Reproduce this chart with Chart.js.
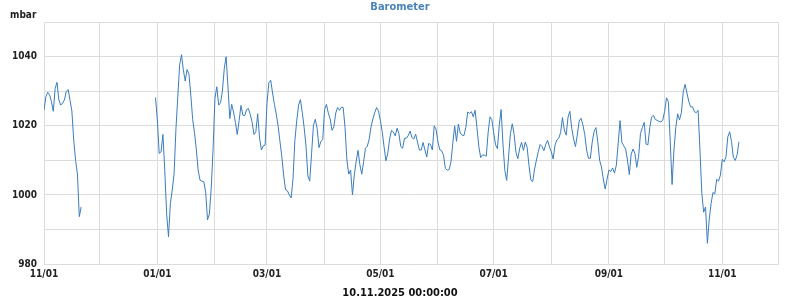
<!DOCTYPE html>
<html>
<head>
<meta charset="utf-8">
<title>Barometer</title>
<script src="https://cdn.jsdelivr.net/npm/chart.js@4.4.1/dist/chart.umd.min.js"></script>
<style>
  html, body { margin: 0; padding: 0; background: #fff; }
  #wrap { width: 800px; height: 300px; }
</style>
</head>
<body>
<div id="wrap"><canvas id="baroChart" width="800" height="300"></canvas></div>
<script>
// daily air pressure (mbar), one array per month, first value = first day listed in seriesStarts
const nov24 = [1024.5, 1028.4, 1029.7, 1029.0, 1027.0, 1024.2, 1030.8, 1032.6, 1027.5, 1026.0,
               1026.6, 1027.5, 1030.0, 1030.5, 1027.4, 1024.3, 1015.9, 1010.0, 1006.0, 993.7, 996.5];
const dec24 = [1028.2];
const jan25 = [1021.7, 1012.0, 1012.5, 1017.5, 1007.0, 994.5, 987.9, 997.5, 1001.4, 1006.0,
               1019.0, 1028.4, 1037.7, 1040.6, 1036.1, 1033.0, 1036.3, 1035.0, 1028.9, 1021.9,
               1018.0, 1013.0, 1007.0, 1004.2, 1004.0, 1003.8, 1000.8, 992.8, 994.5, 1002.0, 1013.5];
const feb25 = [1028.0, 1031.3, 1026.0, 1026.7, 1030.0, 1036.5, 1040.0, 1031.3, 1022.1, 1026.2,
               1024.0, 1021.0, 1017.5, 1021.5, 1025.9, 1023.1, 1022.9, 1024.7, 1025.0, 1023.3,
               1021.0, 1017.5, 1018.3, 1023.5, 1016.5, 1013.0, 1014.2, 1014.4];
const mar25 = [1026.5, 1032.5, 1033.2, 1029.5, 1026.2, 1023.4, 1019.9, 1015.4, 1011.0, 1005.5,
               1001.5, 1001.2, 1000.0, 999.1, 1004.7, 1015.7, 1021.4, 1026.0, 1027.6, 1023.8,
               1019.5, 1014.2, 1005.5, 1004.0, 1012.0, 1020.2, 1021.9, 1019.2, 1013.7, 1015.5, 1016.0];
const apr25 = [1024.7, 1026.2, 1023.7, 1022.0, 1018.7, 1019.7, 1023.7, 1025.3, 1024.5, 1025.4,
               1025.3, 1019.5, 1010.1, 1006.0, 1007.2, 1000.0, 1005.8, 1009.7, 1012.9, 1008.7,
               1006.0, 1009.6, 1013.5, 1014.1, 1016.2, 1019.7, 1022.0, 1023.8, 1025.3, 1024.3];
const may25 = [1021.6, 1018.3, 1014.0, 1009.9, 1012.0, 1016.2, 1018.7, 1018.2, 1017.1, 1019.3,
               1017.7, 1014.0, 1013.5, 1016.4, 1016.4, 1017.2, 1018.5, 1016.6, 1016.2, 1017.6,
               1015.3, 1013.0, 1013.0, 1015.2, 1013.0, 1011.0, 1014.9, 1014.6, 1013.0, 1020.0, 1019.0];
const jun25 = [1015.3, 1013.1, 1012.8, 1011.5, 1007.6, 1007.2, 1007.3, 1009.5, 1015.0, 1020.0,
               1015.5, 1020.5, 1017.9, 1017.3, 1017.2, 1019.5, 1024.0, 1023.6, 1024.1, 1022.6,
               1024.5, 1019.5, 1014.0, 1010.8, 1011.6, 1011.5, 1011.2, 1018.0, 1022.6, 1021.8];
const jul25 = [1018.0, 1014.5, 1013.4, 1020.2, 1024.7, 1014.7, 1007.1, 1004.2, 1011.0, 1017.8,
               1020.6, 1017.5, 1012.3, 1010.5, 1013.5, 1015.2, 1012.9, 1015.3, 1013.8, 1008.5,
               1004.3, 1003.8, 1007.5, 1010.1, 1012.5, 1014.6, 1014.0, 1012.8, 1014.6, 1015.8, 1013.9];
const aug25 = [1012.5, 1010.4, 1014.4, 1015.9, 1016.4, 1018.0, 1022.4, 1018.8, 1017.3, 1022.5,
               1024.2, 1019.3, 1016.2, 1014.0, 1017.3, 1021.4, 1022.2, 1020.3, 1017.5, 1013.0,
               1010.6, 1010.6, 1015.2, 1018.3, 1019.5, 1015.5, 1010.0, 1008.1, 1004.6, 1001.7, 1004.5];
const sep25 = [1007.2, 1006.8, 1007.8, 1006.3, 1008.6, 1015.0, 1021.5, 1015.2, 1014.2, 1013.3,
               1010.1, 1005.9, 1011.8, 1013.3, 1012.0, 1008.0, 1011.2, 1017.8, 1019.5, 1021.0,
               1014.7, 1014.5, 1019.5, 1022.6, 1023.0, 1021.8, 1021.6, 1021.3, 1021.1, 1021.7];
const oct25 = [1024.2, 1028.1, 1027.0, 1015.5, 1003.0, 1013.0, 1019.5, 1023.5, 1021.7, 1023.8,
               1029.8, 1032.0, 1029.5, 1027.0, 1025.5, 1025.5, 1024.1, 1023.8, 1024.5, 1013.0,
               1000.5, 995.0, 996.5, 986.0, 993.0, 997.5, 1000.7, 1000.3, 1004.5, 1004.0, 1005.7];
const nov25 = [1010.3, 1009.6, 1011.0, 1016.8, 1018.3, 1015.4, 1010.8, 1010.0, 1011.6, 1015.4];

// where each block of readings starts (no readings 22 Nov - 30 Dec 2024)
const seriesStarts = [
    ['2024-11-01', nov24], ['2024-12-31', dec24], ['2025-01-01', jan25], ['2025-02-01', feb25],
    ['2025-03-01', mar25], ['2025-04-01', apr25], ['2025-05-01', may25], ['2025-06-01', jun25],
    ['2025-07-01', jul25], ['2025-08-01', aug25], ['2025-09-01', sep25], ['2025-10-01', oct25],
    ['2025-11-01', nov25]
];

// axis ticks
const monthTicks = ['2024-11-01', '2024-12-01', '2025-01-01', '2025-02-01', '2025-03-01', '2025-04-01',
                    '2025-05-01', '2025-06-01', '2025-07-01', '2025-08-01', '2025-09-01', '2025-10-01',
                    '2025-11-01', '2025-12-01'];
const monthLabels = ['11/01', '', '01/01', '', '03/01', '', '05/01', '', '07/01', '', '09/01', '', '11/01', ''];
const yTicks = [980, 990, 1000, 1010, 1020, 1030, 1040, 1050];
const yLabels = ['980', '', '1000', '', '1020', '', '1040', ''];

const DAY = 86400000;
const points = [];
seriesStarts.forEach(([start, values], i) => {
    const t0 = Date.parse(start);
    values.forEach((v, d) => points.push({ x: t0 + d * DAY, y: v }));
    // break the line where the station sent nothing
    if (i === 0) points.push({ x: t0 + values.length * DAY, y: null });
});

const fontFamily = '"DejaVu Sans Condensed", "DejaVu Sans", sans-serif';
const gridColor = '#dcdcdc';

// "mbar" unit caption in the top left corner
const unitLabel = {
    id: 'unitLabel',
    afterDraw(chart) {
        const ctx = chart.ctx;
        ctx.save();
        ctx.font = 'bold 10px ' + fontFamily;
        ctx.fillStyle = '#222';
        ctx.textBaseline = 'middle';
        ctx.textAlign = 'left';
        ctx.fillText('mbar', 10, 15);
        ctx.restore();
    }
};

function initChart() {
    const ctx = document.getElementById('baroChart').getContext('2d');
    new Chart(ctx, {
        type: 'line',
        data: {
            datasets: [{
                label: 'Barometer',
                data: points,
                borderColor: '#3a7dbd',
                borderWidth: 1,
                pointRadius: 0,
                tension: 0,
                spanGaps: false
            }]
        },
        options: {
            responsive: false,
            animation: false,
            devicePixelRatio: 1,
            layout: {
                padding: 0
            },
            plugins: {
                legend: { display: false },
                tooltip: { enabled: false },
                title: {
                    display: true,
                    text: 'Barometer',
                    color: '#4a85b9',
                    font: { family: fontFamily, size: 11, weight: 'bold' },
                    padding: { top: 1, bottom: 8 }
                },
                subtitle: {
                    display: true,
                    position: 'bottom',
                    text: '10.11.2025 00:00:00',
                    color: '#111',
                    font: { family: fontFamily, size: 11, weight: 'bold' },
                    padding: { top: 0, bottom: 0 }
                }
            },
            scales: {
                x: {
                    type: 'linear',
                    min: Date.parse(monthTicks[0]),
                    max: Date.parse(monthTicks[monthTicks.length - 1]),
                    afterBuildTicks: scale => {
                        scale.ticks = monthTicks.map(d => ({ value: Date.parse(d) }));
                    },
                    afterFit: scale => {
                        scale.height = 22.8;
                        scale.paddingRight = 22; // empty strip right of the plot
                    },
                    ticks: {
                        autoSkip: false,
                        maxRotation: 0,
                        padding: 4,
                        color: '#222',
                        font: { family: fontFamily, size: 10, weight: 'bold' },
                        callback: (value, index) => monthLabels[index]
                    },
                    grid: { color: gridColor, drawTicks: false },
                    border: { color: gridColor }
                },
                y: {
                    min: 980,
                    max: 1050,
                    afterBuildTicks: scale => {
                        scale.ticks = yTicks.map(v => ({ value: v }));
                    },
                    afterFit: scale => { scale.width = 44; },
                    ticks: {
                        padding: 7,
                        color: '#222',
                        font: { family: fontFamily, size: 10, weight: 'bold' },
                        callback: (value, index) => yLabels[index]
                    },
                    grid: { color: gridColor, drawTicks: false },
                    border: { color: gridColor }
                }
            }
        },
        plugins: [unitLabel]
    });
}

document.addEventListener('DOMContentLoaded', initChart);
</script>
</body>
</html>
